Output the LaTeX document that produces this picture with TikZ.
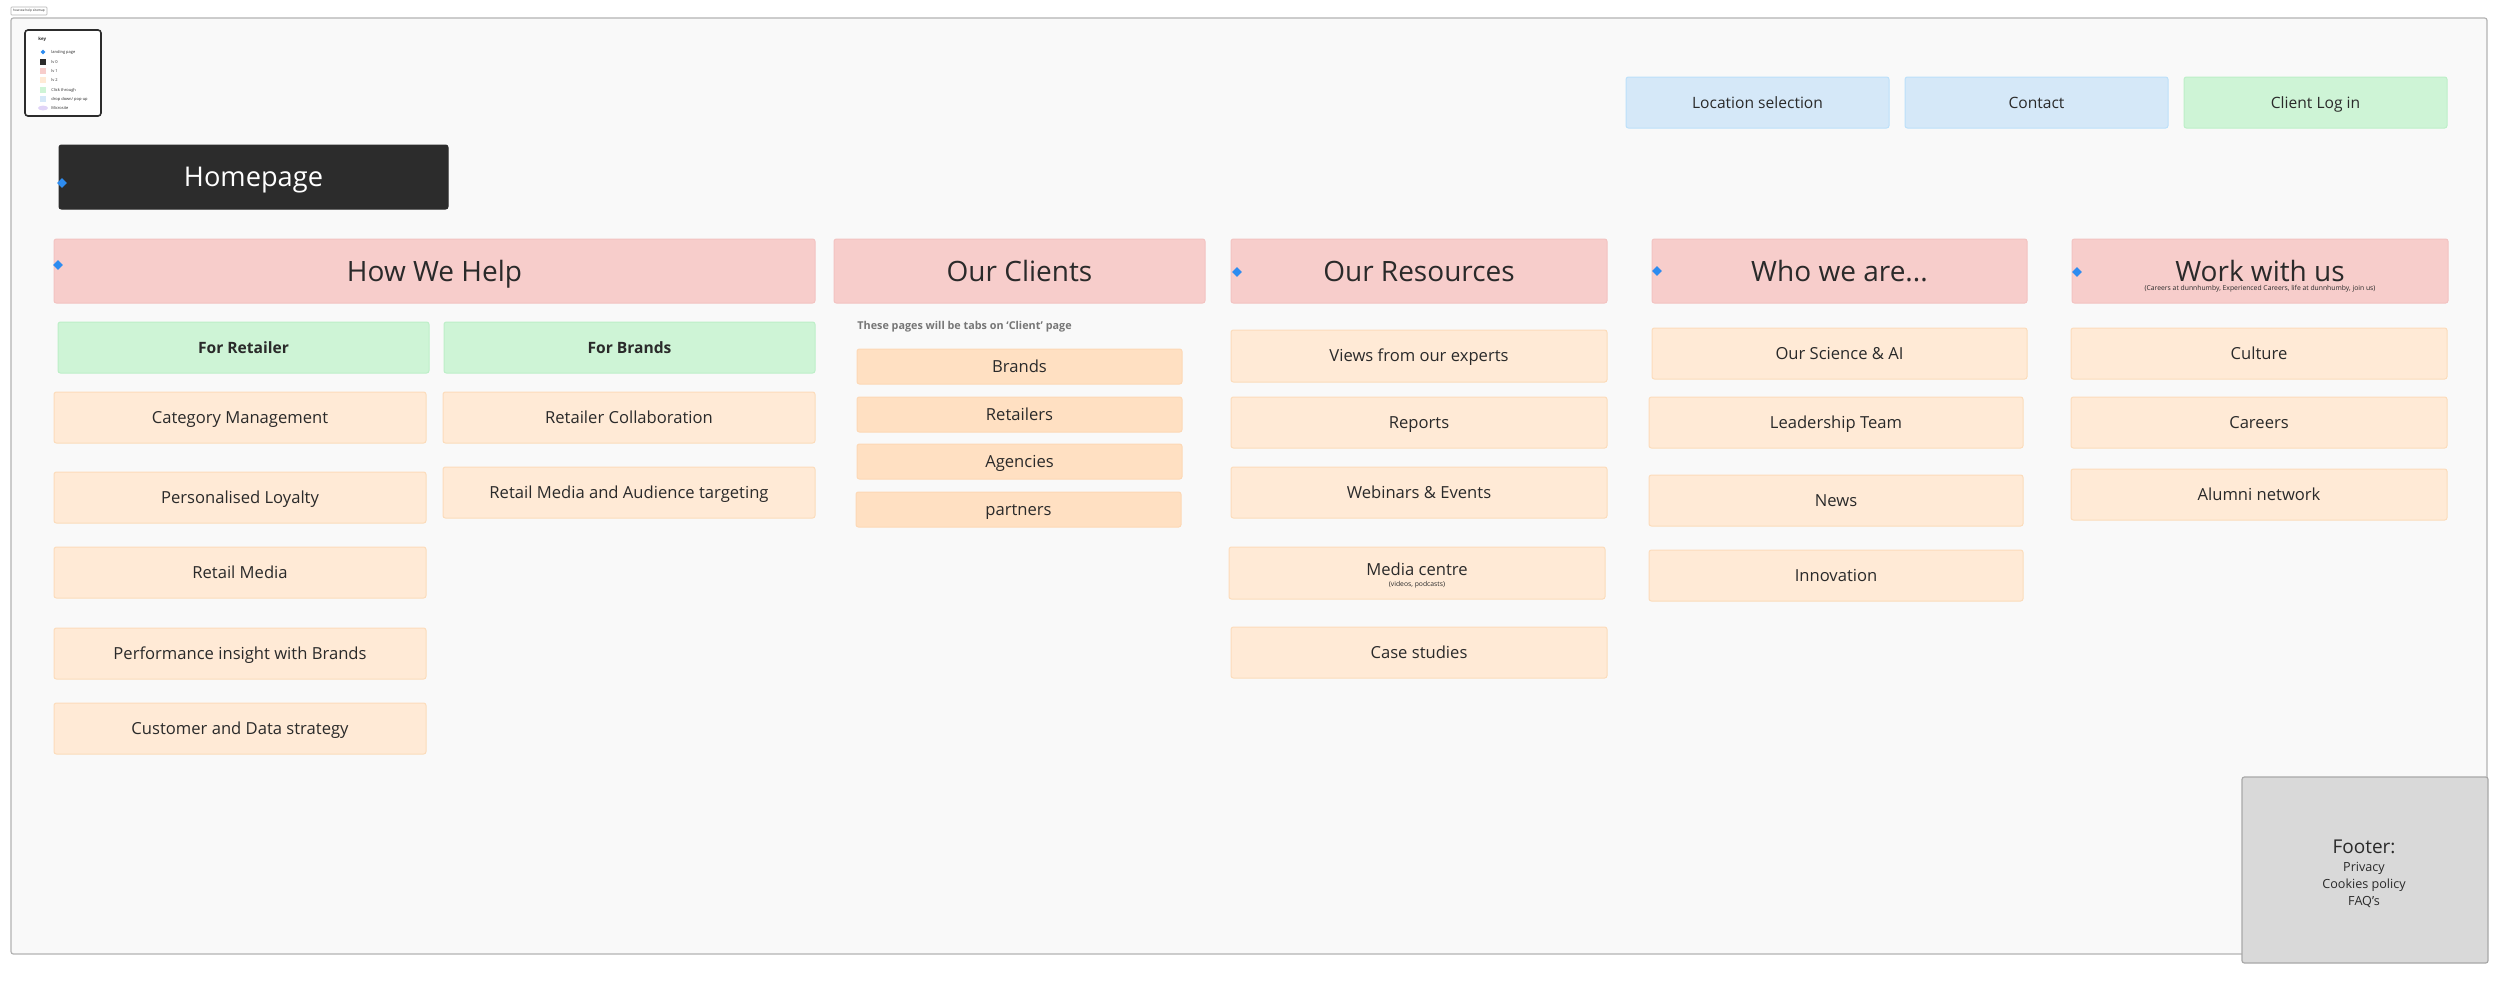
\documentclass[tikz,border=0pt]{standalone}
\usepackage{fontspec}
\setmainfont{Open Sans}
\usetikzlibrary{shapes.geometric}
\definecolor{framebg}{HTML}{F9F9F9}
\definecolor{framedraw}{HTML}{B3B3B3}
\definecolor{lvzero}{HTML}{2C2C2C}
\definecolor{lvonef}{HTML}{F7CDCB}
\definecolor{lvoned}{HTML}{F3C3C1}
\definecolor{lvtwof}{HTML}{FFEAD6}
\definecolor{lvtwod}{HTML}{FCDCBB}
\definecolor{tabf}{HTML}{FFE0C2}
\definecolor{tabd}{HTML}{FDD8B5}
\definecolor{greenf}{HTML}{CEF4D6}
\definecolor{greend}{HTML}{BDEFC8}
\definecolor{bluef}{HTML}{D5E8F8}
\definecolor{blued}{HTML}{BCE0FA}
\definecolor{footf}{HTML}{D9D9D9}
\definecolor{footd}{HTML}{A8A8A8}
\definecolor{diam}{HTML}{2D8CF0}
\definecolor{ink}{HTML}{2A2A2A}
\definecolor{notegrey}{HTML}{767676}
\definecolor{lavender}{HTML}{E0D4F7}
\newcommand\mybox[7]{\node[#2, minimum width={(#5-#3)*0.5pt}, minimum height={(#6-#4)*0.5pt}] (#1) at ({(#3+#5)/2},{(#4+#6)/2}) {#7};}
\tikzset{
  base/.style={rectangle, rounded corners=1.2pt, inner sep=0pt, line width=0.5pt, text=ink, align=center},
  lvzerobox/.style={base, fill=lvzero, draw=lvzero, text=white, font=\fontsize{13.6}{16}\selectfont, text height=9.7pt, text depth=0pt},
  lvonebox/.style={base, fill=lvonef, draw=lvoned, font=\fontsize{14}{16}\selectfont, text height=10pt, text depth=0pt},
  lvtwobox/.style={base, fill=lvtwof, draw=lvtwod, font=\fontsize{8.3}{10}\selectfont, text height=5.9pt, text depth=0pt},
  tabbox/.style={base, fill=tabf, draw=tabd, font=\fontsize{8.3}{10}\selectfont, text height=5.9pt, text depth=0pt},
  greenbox/.style={base, fill=greenf, draw=greend, font=\bfseries\fontsize{7.8}{10}\selectfont, text height=5.6pt, text depth=0pt},
  toplink/.style={base, font=\fontsize{7.8}{10}\selectfont, text height=5.6pt, text depth=0pt},
  bluebox/.style={toplink, fill=bluef, draw=blued},
  greenlink/.style={toplink, fill=greenf, draw=greend},
  footbox/.style={base, fill=footf, draw=footd, line width=0.6pt},
  framebox/.style={base, fill=framebg, draw=framedraw, line width=0.6pt},
  keybox/.style={base, fill=white, draw=lvzero, line width=0.8pt, rounded corners=1.5pt},
  marker/.style={diamond, fill=diam, inner sep=0pt, minimum size=5pt},
  keytext/.style={anchor=west, inner sep=0pt, text=ink, font=\fontsize{2}{2.4}\selectfont},
  keyicon/.style={rectangle, inner sep=0pt, minimum size=3pt},
}
\begin{document}
\begin{tikzpicture}[x=0.5pt,y=-0.5pt]
\useasboundingbox (0,0) rectangle (2500,982);
\fill[white] (0,0) rectangle (2500,982);
% title tag
\node[base, fill=white, draw=framedraw, line width=0.3pt, rounded corners=0.4pt, minimum width=18pt, minimum height=4pt, font=\fontsize{1.6}{2}\selectfont] (tag) at (29,11) {how we help sitemap};
% frame
\mybox{frame}{framebox}{11}{18}{2487}{954}{}
% key
\mybox{key}{keybox}{25}{30}{101}{116}{}
\node[keytext, font=\bfseries\fontsize{2.2}{2.6}\selectfont] (keyt) at (38,39) {key};
\node[marker, minimum size=2.6pt] (k1i) at (43,52) {};
\node[keytext] (k1) at (51,52) {landing page};
\node[keyicon, fill=lvzero] (k2i) at (43,62) {};
\node[keytext] (k2) at (51,62) {lv 0};
\node[keyicon, fill=lvonef] (k3i) at (43,71) {};
\node[keytext] (k3) at (51,71) {lv 1};
\node[keyicon, fill=lvtwof] (k4i) at (43,80) {};
\node[keytext] (k4) at (51,80) {lv 2};
\node[keyicon, fill=greenf] (k5i) at (43,90) {};
\node[keytext] (k5) at (51,90) {Click through};
\node[keyicon, fill=bluef] (k6i) at (43,99) {};
\node[keytext] (k6) at (51,99) {drop down/ pop-up};
\node[ellipse, fill=lavender, inner sep=0pt, minimum width=5pt, minimum height=2.4pt] (k7i) at (43,108) {};
\node[keytext] (k7) at (51,108) {Microsite};
% top links
\mybox{loc}{bluebox}{1626}{77}{1889}{128}{Location selection}
\mybox{contact}{bluebox}{1905}{77}{2168}{128}{Contact}
\mybox{login}{greenlink}{2184}{77}{2447}{128}{Client Log in}
% homepage
\mybox{home}{lvzerobox}{59}{145}{448}{209}{Homepage}
\node[marker] (homem) at (62,183) {};
% level 1
\mybox{help}{lvonebox}{54}{239}{815}{303}{How We Help}
\node[marker] (helpm) at (58,265) {};
\mybox{clients}{lvonebox}{834}{239}{1205}{303}{Our Clients}
\mybox{resources}{lvonebox}{1231}{239}{1607}{303}{Our Resources}
\node[marker] (resm) at (1237,272) {};
\mybox{who}{lvonebox}{1652}{239}{2027}{303}{Who we are...}
\node[marker] (whom) at (1657,271) {};
\mybox{work}{lvonebox}{2072}{239}{2448}{303}{}
\node[marker] (workm) at (2077,272) {};
\node[inner sep=0pt, text=ink, font=\fontsize{14}{16}\selectfont, text height=10pt, text depth=0pt] (workt) at (2260,271) {Work with us};
\node[inner sep=0pt, text=ink, font=\fontsize{3.4}{4}\selectfont] (works) at (2260,289) {(Careers at dunnhumby, Experienced Careers, life at dunnhumby, join us)};
% how we help
\mybox{retailer}{greenbox}{58}{322}{429}{373}{For Retailer}
\mybox{brands}{greenbox}{444}{322}{815}{373}{For Brands}
\mybox{catman}{lvtwobox}{54}{392}{426}{443}{Category Management}
\mybox{loyalty}{lvtwobox}{54}{472}{426}{523}{Personalised Loyalty}
\mybox{rmedia}{lvtwobox}{54}{547}{426}{598}{Retail Media}
\mybox{perf}{lvtwobox}{54}{628}{426}{679}{Performance insight with Brands}
\mybox{cust}{lvtwobox}{54}{703}{426}{754}{Customer and Data strategy}
\mybox{collab}{lvtwobox}{443}{392}{815}{443}{Retailer Collaboration}
\mybox{rmat}{lvtwobox}{443}{467}{815}{518}{Retail Media and Audience targeting}
% clients
\node[anchor=west, inner sep=0pt, text=notegrey, font=\bfseries\fontsize{5.4}{7}\selectfont] (note) at (857,327) {These pages will be tabs on ‘Client’ page};
\mybox{tbrands}{tabbox}{857}{349}{1182}{384}{Brands}
\mybox{tretail}{tabbox}{857}{397}{1182}{432}{Retailers}
\mybox{tagency}{tabbox}{857}{444}{1182}{479}{Agencies}
\mybox{tpartner}{tabbox}{856}{492}{1181}{527}{partners}
% resources
\mybox{views}{lvtwobox}{1231}{330}{1607}{382}{Views from our experts}
\mybox{reports}{lvtwobox}{1231}{397}{1607}{448}{Reports}
\mybox{webinars}{lvtwobox}{1231}{467}{1607}{518}{Webinars \& Events}
\mybox{media}{lvtwobox}{1229}{547}{1605}{599}{}
\node[inner sep=0pt, text=ink, font=\fontsize{8.3}{10}\selectfont, text height=5.9pt, text depth=0pt] (mediat) at (1417,570) {Media centre};
\node[inner sep=0pt, text=ink, font=\fontsize{3.4}{4}\selectfont] (medias) at (1417,585) {(videos, podcasts)};
\mybox{cases}{lvtwobox}{1231}{627}{1607}{678}{Case studies}
% who we are
\mybox{science}{lvtwobox}{1652}{328}{2027}{379}{Our Science \& AI}
\mybox{leader}{lvtwobox}{1649}{397}{2023}{448}{Leadership Team}
\mybox{news}{lvtwobox}{1649}{475}{2023}{526}{News}
\mybox{innov}{lvtwobox}{1649}{550}{2023}{601}{Innovation}
% work with us
\mybox{culture}{lvtwobox}{2071}{328}{2447}{379}{Culture}
\mybox{careers}{lvtwobox}{2071}{397}{2447}{448}{Careers}
\mybox{alumni}{lvtwobox}{2071}{469}{2447}{520}{Alumni network}
% footer
\mybox{footer}{footbox}{2242}{777}{2488}{963}{}
\node[inner sep=0pt, text=ink, align=center, font=\fontsize{6.3}{8.6}\selectfont] (foott) at (2364,874) {{\fontsize{9.5}{11}\selectfont Footer:}\\Privacy\\Cookies policy\\FAQ’s};
\end{tikzpicture}
\end{document}
